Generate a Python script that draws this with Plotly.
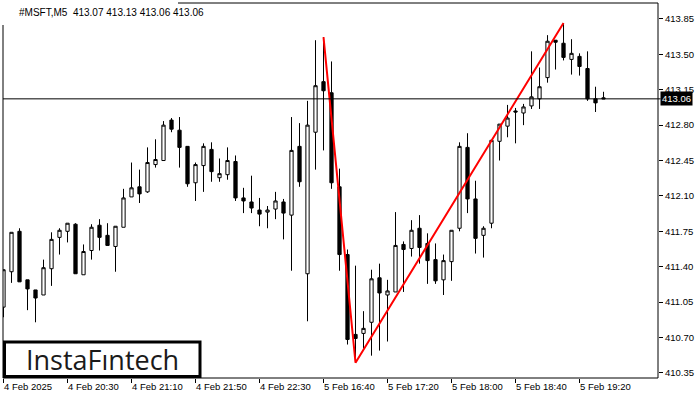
import plotly.graph_objects as go

# ---- data ----
symbol_title = "#MSFT,M5  413.07 413.13 413.06 413.06"
last_price = 413.06

tick_labels = ["4 Feb 2025", "4 Feb 20:30", "4 Feb 21:10", "4 Feb 21:50", "4 Feb 22:30",
               "5 Feb 16:40", "5 Feb 17:20", "5 Feb 18:00", "5 Feb 18:40", "5 Feb 19:20"]
tick_bars = [0, 8, 16, 24, 32, 40, 48, 56, 64, 72]

price_ticks = [413.85, 413.50, 413.15, 412.80, 412.45, 412.10, 411.75, 411.40, 411.05, 410.70, 410.35]

opens = [411.00, 411.35, 411.75, 411.27, 411.17, 411.12, 411.38, 411.69, 411.75, 411.82,
         411.32, 411.56, 411.81, 411.71, 411.60, 411.79, 412.09, 412.19, 412.14, 412.41,
         412.45, 412.85, 412.75, 412.59, 412.23, 412.40, 412.56, 412.28, 412.31, 412.44,
         412.08, 412.04, 411.96, 411.94, 411.97, 412.04, 411.91, 412.59, 411.33, 412.73,
         413.23, 413.12, 412.19, 411.52, 410.73, 410.74, 410.85, 411.29, 411.12, 411.15,
         411.62, 411.58, 411.78, 411.63, 411.47, 411.27, 411.45, 411.78, 412.58, 412.07,
         411.71, 411.83, 412.64, 412.79, 412.94, 412.92, 412.99, 413.06, 413.27, 413.64,
         413.61, 413.45, 413.48, 413.36, 413.06, 413.07]
highs = [411.37, 411.74, 411.78, 411.27, 411.17, 411.47, 411.74, 411.78, 411.83, 411.83,
         411.62, 411.82, 411.87, 411.83, 411.80, 412.17, 412.43, 412.36, 412.58, 412.66,
         412.84, 412.87, 412.88, 412.59, 412.43, 412.62, 412.63, 412.47, 412.58, 412.50,
         412.18, 412.30, 412.08, 412.00, 412.14, 412.07, 412.88, 412.82, 413.04, 413.64,
         413.67, 413.43, 412.37, 411.57, 411.41, 410.96, 411.37, 411.43, 411.27, 411.94,
         411.65, 411.86, 411.91, 411.73, 411.63, 411.52, 411.76, 412.63, 412.72, 412.25,
         411.80, 412.65, 412.81, 413.00, 412.97, 413.01, 413.53, 413.37, 413.69, 413.64,
         413.81, 413.65, 413.51, 413.53, 413.18, 413.13]
lows = [410.90, 411.24, 411.25, 410.97, 410.85, 411.12, 411.21, 411.52, 411.64, 411.33,
        411.32, 411.47, 411.56, 411.61, 411.35, 411.79, 412.09, 412.03, 412.13, 412.38,
        412.45, 412.73, 412.38, 412.19, 412.05, 412.14, 412.24, 412.24, 412.26, 412.05,
        411.93, 411.93, 411.80, 411.78, 411.87, 411.67, 411.36, 412.19, 410.86, 412.36,
        412.55, 412.17, 411.36, 410.63, 410.45, 410.59, 410.52, 410.57, 410.66, 411.15,
        411.15, 411.50, 411.43, 411.23, 411.23, 411.12, 411.26, 411.75, 411.93, 411.53,
        411.49, 411.78, 412.45, 412.68, 412.62, 412.80, 412.96, 412.96, 413.22, 413.35,
        413.44, 413.30, 413.29, 413.04, 412.93, 413.06]
closes = [411.37, 411.74, 411.25, 411.18, 411.09, 411.39, 411.67, 411.76, 411.83, 411.33,
          411.55, 411.79, 411.69, 411.61, 411.80, 412.08, 412.18, 412.12, 412.43, 412.46,
          412.80, 412.76, 412.58, 412.22, 412.41, 412.59, 412.34, 412.32, 412.45, 412.08,
          412.05, 411.98, 411.92, 411.96, 412.05, 411.93, 412.55, 412.24, 412.80, 413.19,
          413.14, 412.23, 411.52, 410.68, 410.69, 410.79, 411.28, 411.14, 411.16, 411.61,
          411.57, 411.76, 411.59, 411.46, 411.26, 411.46, 411.76, 412.59, 412.07, 411.68,
          411.78, 412.65, 412.81, 412.87, 412.93, 412.98, 413.08, 413.18, 413.63, 413.62,
          413.47, 413.51, 413.38, 413.06, 413.02, 413.06]

pattern_bars = [40, 44, 70]
pattern_prices = [413.67, 410.45, 413.81]

logo_text = "InstaF\u0131ntech"

# ---- figure ----
bars = list(range(len(opens)))
fig = go.Figure()
fig.add_trace(go.Candlestick(
    x=bars, open=opens, high=highs, low=lows, close=closes,
    increasing=dict(fillcolor="white", line=dict(color="black", width=1)),
    decreasing=dict(fillcolor="black", line=dict(color="black", width=1)),
    whiskerwidth=0, hoverinfo="skip", showlegend=False,
))
fig.add_trace(go.Scatter(
    x=pattern_bars, y=pattern_prices, mode="lines",
    line=dict(color="#ff0000", width=2), hoverinfo="skip", showlegend=False,
))

PW, PH = 655, 375  # plot area size in px
def px_x(p):
    return (p - 3) / PW
def px_y(p):
    return (378 - p) / PH

FONT = "Liberation Sans, Arial, sans-serif"

fig.update_layout(
    width=700, height=400,
    margin=dict(l=3, r=42, t=3, b=22),
    paper_bgcolor="white", plot_bgcolor="white",
    boxgap=0.42,
    showlegend=False,
    xaxis=dict(
        range=[-0.0625, 81.81], rangeslider=dict(visible=False),
        showgrid=False, zeroline=False, showline=False,
        tickmode="array", tickvals=tick_bars, ticktext=tick_labels,
        ticks="outside", ticklen=4, tickcolor="black", tickwidth=1,
        ticklabelposition="outside right",
        tickfont=dict(family=FONT, size=9.5, color="black"),
    ),
    yaxis=dict(
        range=[410.299, 414.008], side="right",
        showgrid=False, zeroline=False, showline=False,
        tickmode="array", tickvals=price_ticks,
        ticktext=[f"{v:.2f}" for v in price_ticks],
        ticks="outside", ticklen=4, tickcolor="black", tickwidth=1,
        tickfont=dict(family=FONT, size=9.5, color="black"),
    ),
    hovermode=False,
)

shapes = [
    # frame
    dict(type="rect", xref="paper", yref="paper", x0=0, x1=1, y0=0, y1=1,
         line=dict(color="black", width=1), fillcolor="rgba(0,0,0,0)", layer="above"),
    # current price line
    dict(type="line", xref="paper", yref="y", x0=0, x1=1.004, y0=last_price, y1=last_price,
         line=dict(color="black", width=1), layer="above"),
    # white background under title
    dict(type="rect", xref="paper", yref="paper", x0=px_x(0), x1=px_x(178), y0=px_y(25), y1=px_y(0),
         line=dict(width=0), fillcolor="white", layer="above"),
    # logo box
    dict(type="rect", xref="paper", yref="paper", x0=px_x(4.5), x1=px_x(200), y0=px_y(376.5), y1=px_y(342),
         line=dict(color="black", width=3), fillcolor="white", layer="above"),
]
fig.update_layout(shapes=shapes)

annotations = [
    dict(text=symbol_title, xref="paper", yref="paper", x=px_x(17), y=px_y(13),
         xanchor="left", yanchor="middle", showarrow=False,
         font=dict(family=FONT, size=10, color="black")),
    dict(text=f"{last_price:.2f}", xref="paper", yref="y", x=px_x(660), y=last_price,
         xanchor="left", yanchor="middle", showarrow=False, bgcolor="black",
         borderpad=1, font=dict(family=FONT, size=9.5, color="white")),
    dict(text=logo_text, xref="paper", yref="paper", x=px_x(102), y=px_y(359.5),
         xanchor="center", yanchor="middle", showarrow=False,
         font=dict(family="Open Sans, sans-serif", size=27, color="#1a1a1a")),
]
fig.update_layout(annotations=annotations)

fig.write_html("out.html", config={"displayModeBar": False, "staticPlot": True},
               post_script="document.body.style.margin='0px';document.body.style.padding='0px';")
